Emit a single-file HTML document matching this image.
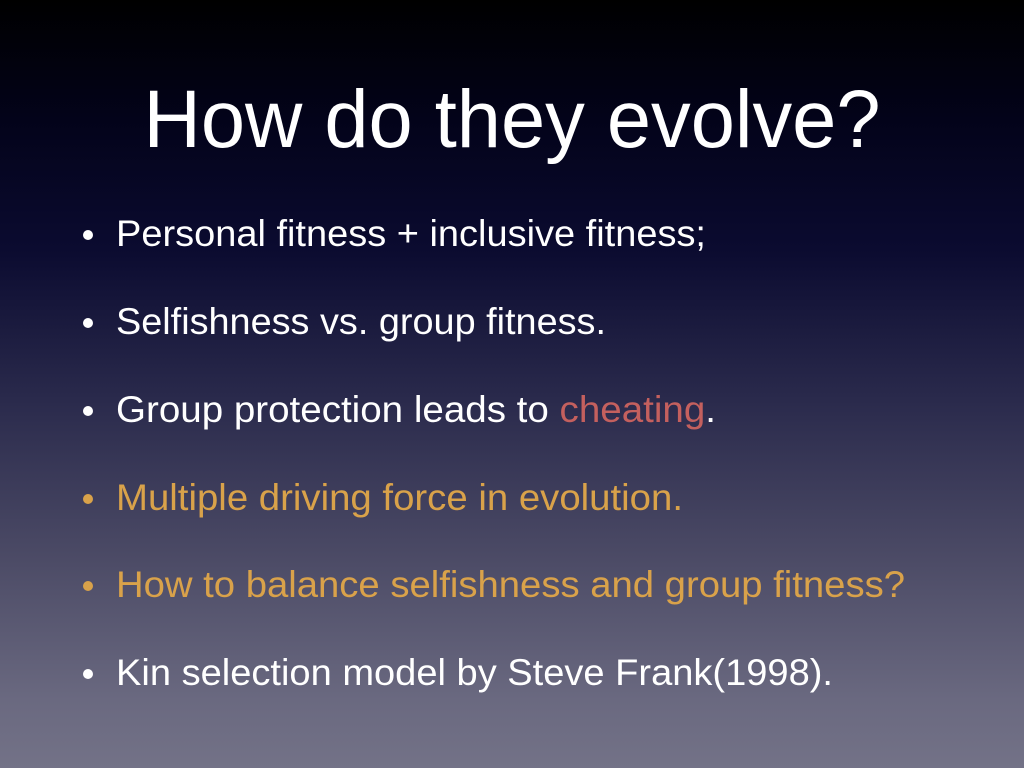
<!DOCTYPE html>
<html><head><meta charset="utf-8"><style>
html,body{margin:0;padding:0;}
body{width:1024px;height:768px;overflow:hidden;background:linear-gradient(to bottom,#000000 0px,#03031a 120px,#0b0b30 250px,#2a2a4c 400px,#4c4b66 560px,#6a6980 700px,#737287 768px);}
svg{display:block;font-family:"Liberation Sans",sans-serif;}
</style></head><body>
<svg width="1024" height="768">
<text x="512" y="147" text-anchor="middle" font-size="82" fill="#fff" textLength="737" lengthAdjust="spacingAndGlyphs">How do they evolve?</text>
<g font-size="37">
<g><circle cx="88" cy="235" r="5" fill="#fff"/><text x="116" y="246" fill="#fff" textLength="590" lengthAdjust="spacingAndGlyphs">Personal fitness + inclusive fitness;</text></g>
<g><circle cx="88" cy="323" r="5" fill="#fff"/><text x="116" y="334" fill="#fff" textLength="490" lengthAdjust="spacingAndGlyphs">Selfishness vs. group fitness.</text></g>
<g><circle cx="88" cy="411" r="5" fill="#fff"/><text x="116" y="422" fill="#fff" textLength="600" lengthAdjust="spacingAndGlyphs">Group protection leads to <tspan fill="#c4605e">cheating</tspan>.</text></g>
<g><circle cx="88" cy="499" r="5" fill="#d9a24a"/><text x="116" y="510" fill="#d9a24a" textLength="567" lengthAdjust="spacingAndGlyphs">Multiple driving force in evolution.</text></g>
<g><circle cx="88" cy="586" r="5" fill="#d9a24a"/><text x="116" y="597" fill="#d9a24a" textLength="789" lengthAdjust="spacingAndGlyphs">How to balance selfishness and group fitness?</text></g>
<g><circle cx="88" cy="674" r="5" fill="#fff"/><text x="116" y="685" fill="#fff" textLength="717" lengthAdjust="spacingAndGlyphs">Kin selection model by Steve Frank(1998).</text></g>
</g>
</svg>
</body></html>
